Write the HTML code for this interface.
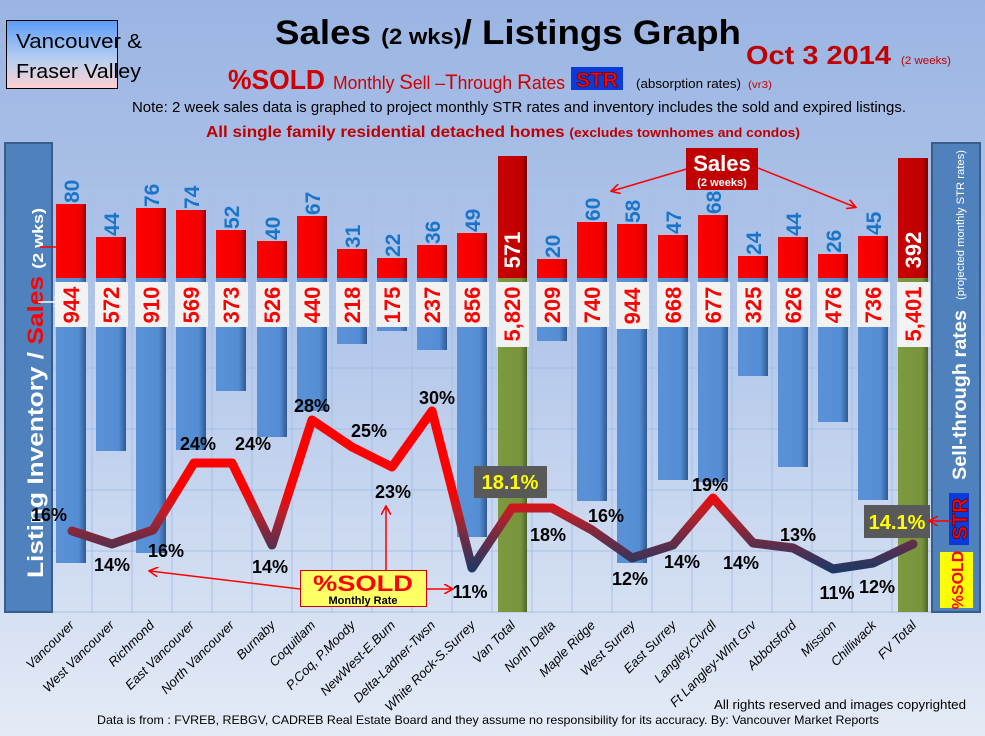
<!DOCTYPE html>
<html><head><meta charset="utf-8"><style>
html,body{margin:0;padding:0;width:985px;height:736px;overflow:hidden}
svg{display:block}
text{font-family:"Liberation Sans",Arial,sans-serif}
</style></head><body>
<svg width="985" height="736" viewBox="0 0 985 736" xmlns="http://www.w3.org/2000/svg">
<defs>
<linearGradient id="bg" x1="0" y1="0" x2="0" y2="1">
<stop offset="0" stop-color="#9bb5e3"/><stop offset="0.45" stop-color="#b3c7ea"/><stop offset="1" stop-color="#e4ebf6"/></linearGradient>
<linearGradient id="vf" x1="0" y1="0" x2="0" y2="1"><stop offset="0" stop-color="#5c9df8"/><stop offset="0.6" stop-color="#bcd0f0"/><stop offset="1" stop-color="#ffd0d0"/></linearGradient>
<linearGradient id="red" x1="0" y1="0" x2="1" y2="0"><stop offset="0" stop-color="#ff0000"/><stop offset="0.8" stop-color="#f00000"/><stop offset="1" stop-color="#9a0000"/></linearGradient>
<linearGradient id="dred" x1="0" y1="0" x2="1" y2="0"><stop offset="0" stop-color="#c80000"/><stop offset="0.8" stop-color="#c00000"/><stop offset="1" stop-color="#7a0000"/></linearGradient>
<linearGradient id="blue" x1="0" y1="0" x2="1" y2="0"><stop offset="0" stop-color="#5b91d6"/><stop offset="0.75" stop-color="#558ed5"/><stop offset="1" stop-color="#2e5a92"/></linearGradient>
<linearGradient id="green" x1="0" y1="0" x2="1" y2="0"><stop offset="0" stop-color="#7d9a40"/><stop offset="0.8" stop-color="#77933c"/><stop offset="1" stop-color="#4f6428"/></linearGradient>
<linearGradient id="ln" gradientUnits="userSpaceOnUse" x1="0" y1="410" x2="0" y2="570">
<stop offset="0" stop-color="#ff0000"/><stop offset="0.5" stop-color="#ff0000"/><stop offset="0.65" stop-color="#b8202a"/><stop offset="0.8" stop-color="#6e2b44"/><stop offset="1" stop-color="#1f3864"/></linearGradient>
<marker id="ar" markerWidth="10" markerHeight="10" refX="8" refY="5" orient="auto" markerUnits="userSpaceOnUse"><path d="M0,0 L9,5 L0,10" fill="none" stroke="#ff0000" stroke-width="1.6"/></marker>
<marker id="aw" markerWidth="10" markerHeight="10" refX="8" refY="5" orient="auto" markerUnits="userSpaceOnUse"><path d="M0,0 L9,5 L0,10" fill="none" stroke="#fff" stroke-width="1.6"/></marker>
</defs>
<rect width="985" height="736" fill="url(#bg)"/>
<g stroke="#a6bfe6" stroke-width="1">
<line x1="53" y1="185" x2="932" y2="185"/><line x1="53" y1="246" x2="932" y2="246"/><line x1="53" y1="307" x2="932" y2="307"/><line x1="53" y1="368" x2="932" y2="368"/><line x1="53" y1="429" x2="932" y2="429"/><line x1="53" y1="490" x2="932" y2="490"/><line x1="53" y1="551" x2="932" y2="551"/>
<line x1="92" y1="150" x2="92" y2="612"/><line x1="132" y1="150" x2="132" y2="612"/><line x1="172" y1="150" x2="172" y2="612"/><line x1="212" y1="150" x2="212" y2="612"/><line x1="252" y1="150" x2="252" y2="612"/><line x1="292" y1="150" x2="292" y2="612"/><line x1="332" y1="150" x2="332" y2="612"/><line x1="372" y1="150" x2="372" y2="612"/><line x1="412" y1="150" x2="412" y2="612"/><line x1="452" y1="150" x2="452" y2="612"/><line x1="492" y1="150" x2="492" y2="612"/><line x1="532" y1="150" x2="532" y2="612"/><line x1="572" y1="150" x2="572" y2="612"/><line x1="612" y1="150" x2="612" y2="612"/><line x1="652" y1="150" x2="652" y2="612"/><line x1="692" y1="150" x2="692" y2="612"/><line x1="732" y1="150" x2="732" y2="612"/><line x1="772" y1="150" x2="772" y2="612"/><line x1="812" y1="150" x2="812" y2="612"/><line x1="852" y1="150" x2="852" y2="612"/><line x1="892" y1="150" x2="892" y2="612"/>
<line x1="53" y1="612" x2="932" y2="612"/>
</g>

<rect x="6.5" y="20.5" width="111" height="68" fill="url(#vf)" stroke="#000" stroke-width="1"/>
<text x="16" y="48" font-size="20" fill="#000" textLength="126" lengthAdjust="spacingAndGlyphs">Vancouver &amp;</text>
<text x="16" y="78" font-size="20" fill="#000" textLength="125" lengthAdjust="spacingAndGlyphs">Fraser Valley</text>
<text x="275" y="44" font-size="34" font-weight="bold" fill="#000" textLength="466" lengthAdjust="spacingAndGlyphs">Sales <tspan font-size="22">(2 wks)</tspan>/ Listings Graph</text>
<text x="746" y="64" font-size="26" font-weight="bold" fill="#c00000" textLength="145" lengthAdjust="spacingAndGlyphs">Oct 3 2014</text>
<text x="901" y="64" font-size="11" fill="#c00000" textLength="50" lengthAdjust="spacingAndGlyphs">(2 weeks)</text>
<text x="228" y="89" font-size="28" font-weight="bold" fill="#d00000" textLength="97" lengthAdjust="spacingAndGlyphs">%SOLD</text>
<text x="333" y="89" font-size="18" fill="#d00000" textLength="232" lengthAdjust="spacingAndGlyphs">Monthly <tspan font-size="21">S</tspan>ell –<tspan font-size="21">T</tspan>hrough <tspan font-size="21">R</tspan>ates</text>
<rect x="571" y="67" width="52" height="23" fill="#0a3ad8"/>
<text x="597" y="87" font-size="21" font-weight="bold" fill="#ff0000" text-anchor="middle" stroke="#400000" stroke-width="0.6">STR</text>
<text x="636" y="88" font-size="13" fill="#000" textLength="105" lengthAdjust="spacingAndGlyphs">(absorption rates)</text>
<text x="748" y="88" font-size="10" fill="#c00000" textLength="24" lengthAdjust="spacingAndGlyphs">(vr3)</text>
<text x="132" y="112" font-size="15" fill="#000" textLength="774" lengthAdjust="spacingAndGlyphs">Note: 2 week sales data is graphed to project monthly STR rates and inventory includes the sold and expired listings.</text>
<text x="206" y="137" font-size="16" font-weight="bold" fill="#c00000" textLength="594" lengthAdjust="spacingAndGlyphs">All single family residential detached homes <tspan font-size="13">(excludes townhomes and condos)</tspan></text>

<rect x="5" y="143" width="47" height="469" fill="#4f81bd" stroke="#385d8a" stroke-width="2"/>
<text transform="translate(43,578) rotate(-90)" font-size="22" font-weight="bold" fill="#fff" textLength="370" lengthAdjust="spacingAndGlyphs">Listing Inventory / <tspan fill="#ff0000">Sales</tspan> <tspan font-size="15">(2  wks)</tspan></text>
<line x1="40" y1="247" x2="66" y2="247" stroke="#ff0000" stroke-width="1.5" marker-end="url(#ar)"/>
<line x1="38" y1="302" x2="62" y2="302" stroke="#fff" stroke-width="1.5" marker-end="url(#aw)"/>

<rect x="932" y="143" width="48" height="469" fill="#4f81bd" stroke="#385d8a" stroke-width="2"/>
<text transform="translate(966,480) rotate(-90)" font-size="19" font-weight="bold" fill="#fff" textLength="170" lengthAdjust="spacingAndGlyphs">Sell-through rates</text>
<text transform="translate(964,300) rotate(-90)" font-size="11" fill="#fff" textLength="150" lengthAdjust="spacingAndGlyphs">(projected monthly STR rates)</text>
<rect x="949" y="493" width="20" height="52" fill="#0a3ad8"/>
<text transform="translate(967,519) rotate(-90)" font-size="21" font-weight="bold" fill="#ff0000" text-anchor="middle" stroke="#400000" stroke-width="0.6">STR</text>
<rect x="940" y="552" width="33" height="56" fill="#ffff00"/>
<text transform="translate(963,580) rotate(-90)" font-size="16" font-weight="bold" fill="#ff0000" text-anchor="middle">%SOLD</text>

<g fill="url(#red)">
<rect x="56" y="204" width="30" height="74"/><rect x="96" y="237" width="30" height="41"/><rect x="136" y="208" width="30" height="70"/><rect x="176" y="210" width="30" height="68"/><rect x="216" y="230" width="30" height="48"/><rect x="257" y="241" width="30" height="37"/><rect x="297" y="216" width="30" height="62"/><rect x="337" y="249" width="30" height="29"/><rect x="377" y="258" width="30" height="20"/><rect x="417" y="245" width="30" height="33"/><rect x="457" y="233" width="30" height="45"/>
<rect x="537" y="259" width="30" height="19"/><rect x="577" y="222" width="30" height="56"/><rect x="617" y="224" width="30" height="54"/><rect x="658" y="235" width="30" height="43"/><rect x="698" y="215" width="30" height="63"/><rect x="738" y="256" width="30" height="22"/><rect x="778" y="237" width="30" height="41"/><rect x="818" y="254" width="30" height="24"/><rect x="858" y="236" width="30" height="42"/>
</g>
<g fill="url(#blue)">
<rect x="56" y="278" width="30" height="285"/><rect x="96" y="278" width="30" height="173"/><rect x="136" y="278" width="30" height="275"/><rect x="176" y="278" width="30" height="172"/><rect x="216" y="278" width="30" height="113"/><rect x="257" y="278" width="30" height="159"/><rect x="297" y="278" width="30" height="133"/><rect x="337" y="278" width="30" height="66"/><rect x="377" y="278" width="30" height="53"/><rect x="417" y="278" width="30" height="72"/><rect x="457" y="278" width="30" height="259"/>
<rect x="537" y="278" width="30" height="63"/><rect x="577" y="278" width="30" height="223"/><rect x="617" y="278" width="30" height="285"/><rect x="658" y="278" width="30" height="202"/><rect x="698" y="278" width="30" height="204"/><rect x="738" y="278" width="30" height="98"/><rect x="778" y="278" width="30" height="189"/><rect x="818" y="278" width="30" height="144"/><rect x="858" y="278" width="30" height="222"/>
</g>
<rect x="498" y="156" width="29" height="122" fill="url(#dred)"/>
<rect x="498" y="278" width="29" height="334" fill="url(#green)"/>
<rect x="898" y="158" width="30" height="120" fill="url(#dred)"/>
<rect x="898" y="278" width="30" height="334" fill="url(#green)"/>
<g font-size="22" font-weight="bold" fill="#fff" text-anchor="middle">
<text transform="translate(520,250) rotate(-90)">571</text>
<text transform="translate(921,250) rotate(-90)">392</text>
</g>

<g font-size="21" font-weight="bold" fill="#1a75c8">
<text transform="translate(79,203) rotate(-90)">80</text>
<text transform="translate(119,236) rotate(-90)">44</text>
<text transform="translate(159,207) rotate(-90)">76</text>
<text transform="translate(199,209) rotate(-90)">74</text>
<text transform="translate(239,229) rotate(-90)">52</text>
<text transform="translate(280,240) rotate(-90)">40</text>
<text transform="translate(320,215) rotate(-90)">67</text>
<text transform="translate(360,248) rotate(-90)">31</text>
<text transform="translate(400,257) rotate(-90)">22</text>
<text transform="translate(440,244) rotate(-90)">36</text>
<text transform="translate(480,232) rotate(-90)">49</text>
<text transform="translate(560,258) rotate(-90)">20</text>
<text transform="translate(600,221) rotate(-90)">60</text>
<text transform="translate(640,223) rotate(-90)">58</text>
<text transform="translate(681,234) rotate(-90)">47</text>
<text transform="translate(721,214) rotate(-90)">68</text>
<text transform="translate(761,255) rotate(-90)">24</text>
<text transform="translate(801,236) rotate(-90)">44</text>
<text transform="translate(841,253) rotate(-90)">26</text>
<text transform="translate(881,235) rotate(-90)">45</text>
</g>

<g fill="#f2f2f2">
<rect x="55" y="282" width="33" height="45"/><rect x="95" y="282" width="33" height="45"/><rect x="135" y="282" width="33" height="45"/><rect x="175" y="282" width="33" height="45"/><rect x="215" y="282" width="33" height="45"/><rect x="256" y="282" width="33" height="45"/><rect x="296" y="282" width="33" height="45"/><rect x="336" y="282" width="33" height="45"/><rect x="376" y="282" width="33" height="45"/><rect x="416" y="282" width="33" height="45"/><rect x="456" y="282" width="33" height="45"/>
<rect x="496" y="282" width="33" height="65"/>
<rect x="536" y="282" width="33" height="45"/><rect x="576" y="282" width="33" height="45"/><rect x="616" y="282" width="33" height="47"/><rect x="657" y="282" width="33" height="45"/><rect x="697" y="282" width="33" height="45"/><rect x="737" y="282" width="33" height="45"/><rect x="777" y="282" width="33" height="45"/><rect x="817" y="282" width="33" height="45"/><rect x="857" y="282" width="33" height="45"/>
<rect x="897" y="282" width="33" height="65"/>
</g>
<g font-size="22" font-weight="bold" fill="#ff0000" text-anchor="middle">
<text transform="translate(79,305) rotate(-90)">944</text>
<text transform="translate(119,305) rotate(-90)">572</text>
<text transform="translate(159,305) rotate(-90)">910</text>
<text transform="translate(199,305) rotate(-90)">569</text>
<text transform="translate(239,305) rotate(-90)">373</text>
<text transform="translate(280,305) rotate(-90)">526</text>
<text transform="translate(320,305) rotate(-90)">440</text>
<text transform="translate(360,305) rotate(-90)">218</text>
<text transform="translate(400,305) rotate(-90)">175</text>
<text transform="translate(440,305) rotate(-90)">237</text>
<text transform="translate(480,305) rotate(-90)">856</text>
<text transform="translate(520,314) rotate(-90)">5,820</text>
<text transform="translate(560,305) rotate(-90)">209</text>
<text transform="translate(600,305) rotate(-90)">740</text>
<text transform="translate(640,306) rotate(-90)">944</text>
<text transform="translate(681,305) rotate(-90)">668</text>
<text transform="translate(721,305) rotate(-90)">677</text>
<text transform="translate(761,305) rotate(-90)">325</text>
<text transform="translate(801,305) rotate(-90)">626</text>
<text transform="translate(841,305) rotate(-90)">476</text>
<text transform="translate(881,305) rotate(-90)">736</text>
<text transform="translate(921,314) rotate(-90)">5,401</text>
</g>

<polyline fill="none" stroke="url(#ln)" stroke-width="9" stroke-linejoin="round" stroke-linecap="round"
points="72,531 112,544 153,530 194,463 232,463 272,545 312,420 352,447 392,467 432,411 472,568 512,508 552,508 592,530 632,558 673,545 713,498 753,543 793,548 833,569 873,563 913,544"/>

<g font-size="18" font-weight="bold" fill="#000" text-anchor="middle">
<text x="49" y="521">16%</text>
<text x="112" y="571">14%</text>
<text x="166" y="557">16%</text>
<text x="198" y="450">24%</text>
<text x="253" y="450">24%</text>
<text x="270" y="573">14%</text>
<text x="312" y="412">28%</text>
<text x="369" y="437">25%</text>
<text x="393" y="498">23%</text>
<text x="437" y="404">30%</text>
<text x="470" y="598">11%</text>
<text x="548" y="541">18%</text>
<text x="606" y="522">16%</text>
<text x="630" y="585">12%</text>
<text x="682" y="568">14%</text>
<text x="710" y="491">19%</text>
<text x="741" y="569">14%</text>
<text x="798" y="541">13%</text>
<text x="837" y="599">11%</text>
<text x="877" y="593">12%</text>
</g>
<rect x="474" y="466" width="73" height="32" fill="#595959"/>
<text x="510" y="489" font-size="20" font-weight="bold" fill="#ffff00" text-anchor="middle">18.1%</text>
<rect x="864" y="505" width="66" height="33" fill="#595959"/>
<text x="897" y="529" font-size="20" font-weight="bold" fill="#ffff00" text-anchor="middle">14.1%</text>
<line x1="952" y1="521" x2="930" y2="521" stroke="#ff0000" stroke-width="1.5" marker-end="url(#ar)"/>

<line x1="300" y1="589" x2="150" y2="571" stroke="#ff0000" stroke-width="1.5" marker-end="url(#ar)"/>
<line x1="386" y1="570" x2="386" y2="507" stroke="#ff0000" stroke-width="1.5" marker-end="url(#ar)"/>
<line x1="427" y1="589" x2="452" y2="589" stroke="#ff0000" stroke-width="1.5" marker-end="url(#ar)"/>
<rect x="300.5" y="570.5" width="126" height="36" fill="#ffff66" stroke="#d00000" stroke-width="1"/>
<text x="363" y="591" font-size="22" font-weight="bold" fill="#ff0000" text-anchor="middle" textLength="100" lengthAdjust="spacingAndGlyphs">%SOLD</text>
<text x="363" y="604" font-size="11" font-weight="bold" fill="#000" text-anchor="middle">Monthly Rate</text>

<line x1="690" y1="168" x2="612" y2="191" stroke="#ff0000" stroke-width="1.5" marker-end="url(#ar)"/>
<line x1="758" y1="168" x2="855" y2="207" stroke="#ff0000" stroke-width="1.5" marker-end="url(#ar)"/>
<rect x="686" y="148" width="72" height="42" fill="#c00000"/>
<text x="722" y="171" font-size="22" font-weight="bold" fill="#fff" text-anchor="middle">Sales</text>
<text x="722" y="186" font-size="11" font-weight="bold" fill="#fff" text-anchor="middle">(2 weeks)</text>

<g font-size="13" font-style="italic" fill="#000" text-anchor="end">
<text transform="translate(75,626) rotate(-45)">Vancouver</text>
<text transform="translate(115,626) rotate(-45)">West Vancouver</text>
<text transform="translate(155,626) rotate(-45)">Richmond</text>
<text transform="translate(195,626) rotate(-45)">East Vancouver</text>
<text transform="translate(235,626) rotate(-45)">North Vancouver</text>
<text transform="translate(276,626) rotate(-45)">Burnaby</text>
<text transform="translate(316,626) rotate(-45)">Coquitlam</text>
<text transform="translate(356,626) rotate(-45)">P.Coq, P.Moody</text>
<text transform="translate(396,626) rotate(-45)">NewWest-E.Burn</text>
<text transform="translate(436,626) rotate(-45)">Delta-Ladner-Twsn</text>
<text transform="translate(476,626) rotate(-45)">White Rock-S.Surrey</text>
<text transform="translate(516,626) rotate(-45)">Van Total</text>
<text transform="translate(556,626) rotate(-45)">North Delta</text>
<text transform="translate(596,626) rotate(-45)">Maple Ridge</text>
<text transform="translate(636,626) rotate(-45)">West Surrey</text>
<text transform="translate(677,626) rotate(-45)">East Surrey</text>
<text transform="translate(717,626) rotate(-45)">Langley,Clvrdl</text>
<text transform="translate(757,626) rotate(-45)">Ft Langley-Wlnt Grv</text>
<text transform="translate(797,626) rotate(-45)">Abbotsford</text>
<text transform="translate(837,626) rotate(-45)">Mission</text>
<text transform="translate(877,626) rotate(-45)">Chilliwack</text>
<text transform="translate(917,626) rotate(-45)">FV Total</text>
</g>
<text x="714" y="709" font-size="13" fill="#000" textLength="252" lengthAdjust="spacingAndGlyphs">All rights reserved and  images copyrighted</text>
<text x="97" y="724" font-size="12" fill="#000" textLength="782" lengthAdjust="spacingAndGlyphs">Data is from : FVREB, REBGV, CADREB Real Estate Board and they assume no responsibility for its accuracy. By: Vancouver Market Reports</text>
</svg>
</body></html>
